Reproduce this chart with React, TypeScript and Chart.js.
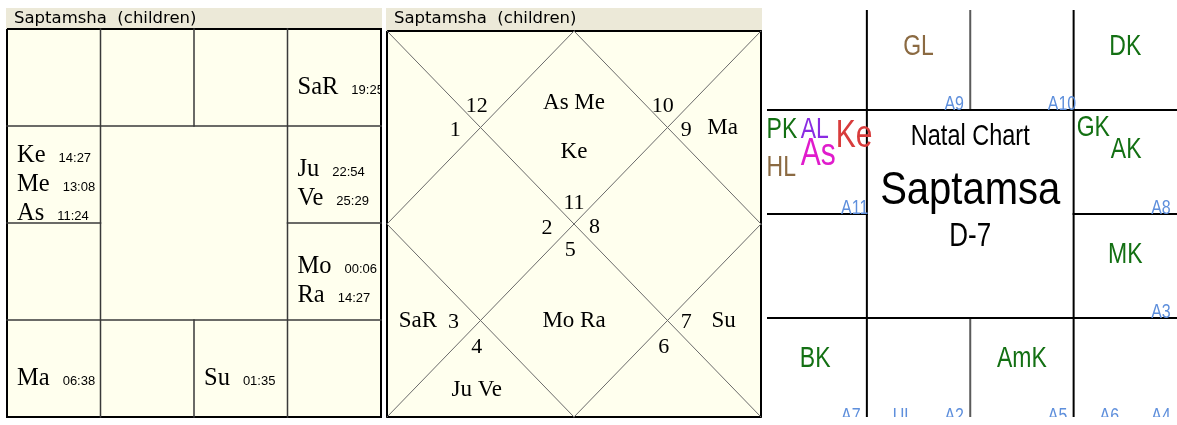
import React, { useEffect, useRef } from "react";
import { Chart, registerables } from "chart.js";

Chart.register(...registerables);

// ---------------- data ----------------
const CHART_TITLE = "Saptamsha  (children)";
const ASC_SIGN = 11;
const PLANETS = ["Ke", "Me", "As", "SaR", "Ju", "Ve", "Mo", "Ra", "Ma", "Su"];
const PLANET_SIGNS = [11, 11, 11, 3, 4, 4, 5, 5, 9, 7];
const PLANET_DEGREES = ["14:27", "13:08", "11:24", "19:25", "22:54", "25:29", "00:06", "14:27", "06:38", "01:35"];
const NORTH_ORDER = ["As", "Me", "Ke", "SaR", "Ju", "Ve", "Mo", "Ra", "Ma", "Su"];
const SPECIAL_LABELS = ["GL", "DK", "PK", "AL", "As", "Ke", "HL", "GK", "AK", "MK", "BK", "AmK"];
const SPECIAL_SIGNS = [1, 3, 11, 11, 11, 11, 11, 4, 4, 5, 9, 7];
const ARUDHA_LABELS = ["A9", "A10", "A11", "A8", "A3", "A7", "UL", "A2", "A5", "A6", "A4"];
const ARUDHA_SIGNS = [1, 2, 11, 4, 5, 9, 8, 8, 7, 6, 6];
const CENTER_LINES = ["Natal Chart", "Saptamsa", "D-7"];

// ---------------- layout ----------------
const SOUTH_CELL: Record<number, [number, number]> = {
  12: [0, 0], 1: [1, 0], 2: [2, 0], 3: [3, 0], 4: [3, 1], 5: [3, 2],
  6: [3, 3], 7: [2, 3], 8: [1, 3], 9: [0, 3], 10: [0, 2], 11: [0, 1],
};
const NORTH_NUM_POS: [number, number][] = [
  [2, 1.78], [0.96, 0.78], [0.73, 1.03], [1.71, 2.04], [0.71, 3.02], [0.96, 3.28],
  [1.96, 2.27], [2.96, 3.28], [3.2, 3.02], [2.22, 2.03], [3.2, 1.03], [2.95, 0.78],
];
const NORTH_PLANET_POS: [number, number][] = [
  [2, 0.75], [1, 0.35], [0.33, 1.0], [1, 2.0], [0.33, 3.0], [0.96, 3.72],
  [2, 3.0], [3, 3.72], [3.6, 3.0], [3, 2.0], [3.59, 1.0], [3, 0.35],
];
const SPECIAL_SLOTS: Record<number, [number, number, CanvasTextAlign][]> = {
  1: [[0.5, 0.39, "center"]],
  2: [[0.03, 0.17, "left"], [0.36, 0.38, "left"]],
  5: [[0.03, 0.19, "left"], [0.36, 0.19, "left"], [0.36, 0.43, "left"], [0.7, 0.25, "left"], [0.03, 0.56, "left"]],
};
const LABEL_COLORS: Record<string, string> = {
  GL: "#8b6a42", HL: "#8b6a42", AL: "#8a2be2", As: "#e01ccc", Ke: "#d83c3c",
};
const KARAKA_GREEN = "#137013";
const ARUDHA_BLUE = "#5e8fdc";

type Seg = [number, number, number, number];

const GRID_SEGS = (mid: boolean): Seg[] => {
  const s: Seg[] = [
    [0, 1, 4, 1], [0, 3, 4, 3], [0, 2, 1, 2], [3, 2, 4, 2],
    [1, 0, 1, 4], [3, 0, 3, 4],
  ];
  if (mid) s.push([2, 0, 2, 1], [2, 3, 2, 4]);
  return s;
};
const NORTH_SEGS: Seg[] = [
  [0, 0, 4, 4], [4, 0, 0, 4], [2, 0, 4, 2], [4, 2, 2, 4], [2, 4, 0, 2], [0, 2, 2, 0],
];
const BORDER: { x: number; y: number }[] = [
  { x: 0, y: 0 }, { x: 4, y: 0 }, { x: 4, y: 4 }, { x: 0, y: 4 }, { x: 0, y: 0 },
];

function segSets(segs: Seg[], color: string, width: number) {
  return segs.map(([x1, y1, x2, y2]) => ({
    data: [{ x: x1, y: y1 }, { x: x2, y: y2 }],
    showLine: true,
    borderColor: color,
    borderWidth: width,
    pointRadius: 0,
    borderCapStyle: "square" as const,
    clip: false as any,
  }));
}
function borderSet() {
  return {
    data: BORDER,
    showLine: true,
    borderColor: "#000",
    borderWidth: 2,
    pointRadius: 0,
    borderJoinStyle: "miter" as const,
    clip: false as any,
  };
}

function baseOptions(xmin: number, xmax: number, ymin: number, ymax: number, padding: any): any {
  return {
    responsive: false,
    maintainAspectRatio: false,
    animation: false,
    events: [],
    layout: { padding },
    plugins: { legend: { display: false }, tooltip: { enabled: false }, title: { display: false } },
    scales: {
      x: { type: "linear", min: xmin, max: xmax, display: false },
      y: { type: "linear", min: ymin, max: ymax, reverse: true, display: false },
    },
  };
}

function drawText(
  ctx: CanvasRenderingContext2D, text: string, x: number, y: number, font: string,
  color: string, align: CanvasTextAlign, sy = 1,
) {
  ctx.save();
  ctx.translate(x, y);
  ctx.scale(1, sy);
  ctx.font = font;
  ctx.fillStyle = color;
  ctx.textAlign = align;
  ctx.textBaseline = "middle";
  ctx.fillText(text, 0, 0);
  ctx.restore();
}

const headerPlugin = {
  id: "header",
  beforeDraw(chart: any) {
    const { ctx, chartArea: a } = chart;
    ctx.save();
    ctx.fillStyle = "#ECE9D8";
    ctx.fillRect(a.left - 1, 0, a.right - a.left + 2, a.top);
    ctx.fillStyle = "#FFFFEE";
    ctx.fillRect(a.left, a.top, a.right - a.left, a.bottom - a.top);
    ctx.font = '16.5px "DejaVu Sans"';
    ctx.fillStyle = "#000";
    ctx.textAlign = "left";
    ctx.textBaseline = "alphabetic";
    ctx.fillText(CHART_TITLE, a.left + 7, 15);
    ctx.restore();
  },
};

const southTextPlugin = {
  id: "southText",
  beforeDatasetsDraw(chart: any) {
    const { ctx, chartArea: a, scales } = chart;
    const xs = scales.x, ys = scales.y;
    ctx.save();
    ctx.beginPath();
    ctx.rect(a.left, a.top, a.right - a.left, a.bottom - a.top);
    ctx.clip();
    ctx.fillStyle = "#000";
    ctx.textBaseline = "alphabetic";
    ctx.textAlign = "left";
    for (let sign = 1; sign <= 12; sign++) {
      const idx = PLANETS.map((_, i) => i).filter((i) => PLANET_SIGNS[i] === sign);
      if (!idx.length) continue;
      const [c, r] = SOUTH_CELL[sign];
      const x0 = xs.getPixelForValue(c);
      const cy = (ys.getPixelForValue(r) + ys.getPixelForValue(r + 1)) / 2;
      const lh = 29;
      idx.forEach((i, k) => {
        const by = cy - ((idx.length - 1) * lh) / 2 + k * lh + 16;
        ctx.font = '24.5px "Liberation Serif"';
        ctx.fillText(PLANETS[i], x0 + 10, by);
        const w = ctx.measureText(PLANETS[i]).width;
        ctx.font = '13px "Liberation Sans"';
        ctx.fillText(PLANET_DEGREES[i], x0 + 10 + w + 13, by);
      });
    }
    ctx.restore();
  },
};

const northTextPlugin = {
  id: "northText",
  afterDatasetsDraw(chart: any) {
    const { ctx, scales } = chart;
    const xs = scales.x, ys = scales.y;
    for (let h = 1; h <= 12; h++) {
      const sign = ((ASC_SIGN - 1 + h - 1) % 12) + 1;
      const [nx, ny] = NORTH_NUM_POS[h - 1];
      drawText(ctx, String(sign), xs.getPixelForValue(nx), ys.getPixelForValue(ny), '22px "Liberation Serif"', "#000", "center");
      const names = NORTH_ORDER.filter((p) => PLANET_SIGNS[PLANETS.indexOf(p)] === sign);
      const [px, py] = NORTH_PLANET_POS[h - 1];
      for (let k = 0; k < names.length; k += 2) {
        const line = names.slice(k, k + 2).join(" ");
        drawText(ctx, line, xs.getPixelForValue(px), ys.getPixelForValue(py + (k / 2) * 0.5), '23px "Liberation Serif"', "#000", "center");
      }
    }
  },
};

const jaiminiPlugin = {
  id: "jaimini",
  afterDatasetsDraw(chart: any) {
    const { ctx, scales } = chart;
    const xs = scales.x, ys = scales.y;
    const SY = 1.28;
    for (let sign = 1; sign <= 12; sign++) {
      const [c, r] = SOUTH_CELL[sign];
      const labs = SPECIAL_LABELS.filter((_, i) => SPECIAL_SIGNS[i] === sign);
      const slots = SPECIAL_SLOTS[labs.length];
      labs.forEach((lab, k) => {
        const [dx, dy, al] = slots[k];
        const big = PLANETS.includes(lab);
        drawText(ctx, lab, xs.getPixelForValue(c + dx), ys.getPixelForValue(r + dy),
          `${big ? 30 : 23}px "Liberation Sans"`, LABEL_COLORS[lab] || KARAKA_GREEN, al, SY);
      });
      const ar = ARUDHA_LABELS.filter((_, i) => ARUDHA_SIGNS[i] === sign);
      ar.forEach((lab, k) => {
        const dx = ar.length === 1 ? 0.75 : k === 0 ? 0.25 : 0.75;
        drawText(ctx, lab, xs.getPixelForValue(c + dx), ys.getPixelForValue(r + 1 - 0.055),
          '16px "Liberation Sans"', ARUDHA_BLUE, "left", SY);
      });
    }
    drawText(ctx, CENTER_LINES[0], xs.getPixelForValue(2), ys.getPixelForValue(1.26), '23.5px "Liberation Sans"', "#000", "center", 1.22);
    drawText(ctx, CENTER_LINES[1], xs.getPixelForValue(2), ys.getPixelForValue(1.78), '40px "Liberation Sans"', "#000", "center", 1.15);
    drawText(ctx, CENTER_LINES[2], xs.getPixelForValue(2), ys.getPixelForValue(2.22), '26px "Liberation Sans"', "#000", "center", 1.3);
  },
};

function ChartBox({ left, top, width, height, build }: { left: number; top: number; width: number; height: number; build: () => any }) {
  const ref = useRef<HTMLCanvasElement>(null);
  useEffect(() => {
    const chart = new Chart(ref.current as HTMLCanvasElement, build());
    return () => chart.destroy();
  }, []);
  return (
    <div style={{ position: "absolute", left, top, width, height }}>
      <canvas ref={ref} width={width} height={height} style={{ display: "block", width, height }} />
    </div>
  );
}

const buildSouth = () => ({
  type: "scatter",
  data: { datasets: [...segSets(GRID_SEGS(true), "#3a3a3a", 1.5), borderSet()] },
  options: baseOptions(0, 4, 0, 4, { left: 2, right: 2, top: 21, bottom: 2 }),
  plugins: [headerPlugin, southTextPlugin],
});

const buildNorth = () => ({
  type: "scatter",
  data: { datasets: [...segSets(NORTH_SEGS, "#6a6a6a", 1), borderSet()] },
  options: baseOptions(0, 4, 0, 4, { left: 2, right: 2, top: 23, bottom: 2 }),
  plugins: [headerPlugin, northTextPlugin],
});

const buildJaimini = () => ({
  type: "scatter",
  data: {
    datasets: [
      ...segSets(GRID_SEGS(false), "#000", 2),
      ...segSets([[2, 0, 2, 1], [2, 3, 2, 4]], "#5a5a5a", 2),
    ],
  },
  options: baseOptions(0.034, 4, 0.04, 3.95, 0),
  plugins: [jaiminiPlugin],
});

export default function App() {
  return (
    <div style={{ position: "absolute", left: 0, top: 0, width: 1177, height: 425, background: "#fff" }}>
      <ChartBox left={5} top={8} width={378} height={411} build={buildSouth} />
      <ChartBox left={385} top={8} width={378} height={411} build={buildNorth} />
      <ChartBox left={767} top={10} width={410} height={407} build={buildJaimini} />
    </div>
  );
}
